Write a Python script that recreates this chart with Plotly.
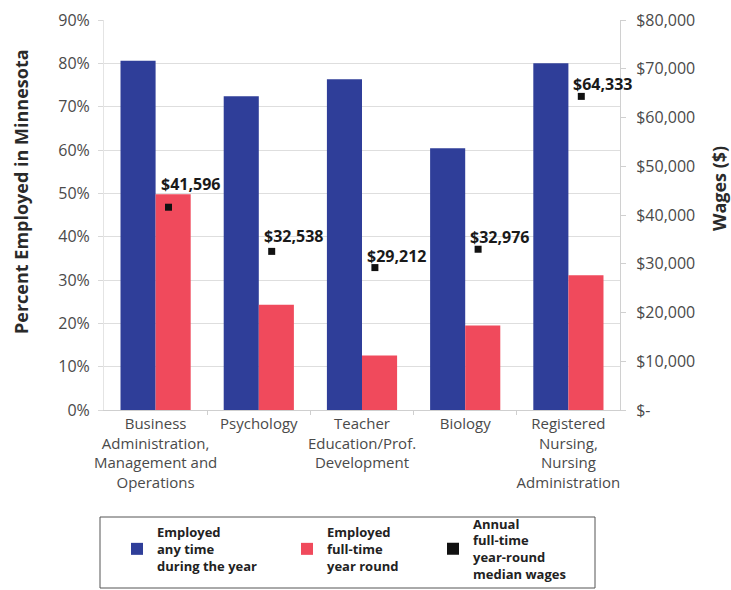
import plotly.graph_objects as go

# ---- data ----
categories = [
    "Business<br>Administration,<br>Management and<br>Operations",
    "Psychology",
    "Teacher<br>Education/Prof.<br>Development",
    "Biology",
    "Registered<br>Nursing,<br>Nursing<br>Administration",
]
employed_any = [80.6, 72.4, 76.3, 60.4, 80.0]
employed_fulltime = [49.8, 24.3, 12.6, 19.5, 31.1]
median_wages = [41596, 32538, 29212, 32976, 64333]
wage_labels = ["$41,596", "$32,538", "$29,212", "$32,976", "$64,333"]
left_ticks = [0, 10, 20, 30, 40, 50, 60, 70, 80, 90]
left_ticktext = ["0%", "10%", "20%", "30%", "40%", "50%", "60%", "70%", "80%", "90%"]
right_ticks = [0, 10000, 20000, 30000, 40000, 50000, 60000, 70000, 80000]
right_ticktext = ["$-", "$10,000", "$20,000", "$30,000", "$40,000",
                  "$50,000", "$60,000", "$70,000", "$80,000"]
legend_names = [
    "Employed<br>any time<br>during the year",
    "Employed<br>full-time<br>year round",
    "Annual<br>full-time<br>year-round<br>median wages",
]
left_title = "Percent Employed in Minnesota"
right_title = "Wages ($)"

# ---- styles ----
BLUE = "#2f3e99"
RED = "#f04a5c"
FONT = "Open Sans"
TICK_COLOR = "#4a4a4a"
GRID = "#dedede"
W, H = 731, 590
ML, MR, MT, MB = 104, 111, 20, 180
PW, PH = W - ML - MR, H - MT - MB
marker_offset = 0.125
label_yshift = [23, 15, 12, 12, 12]
legend_px_x = [117, 287, 433]     # left edge of each legend entry (pixels)
legend_px_y = 549                 # vertical centre of legend entries (pixels)
box_px = (100, 517, 595, 588)     # legend frame (x0, y0, x1, y1) in pixels
left_title_px = (21, 192)
right_title_px = (719, 189)


def paper_x(px):
    return (px - ML) / PW


def paper_y(py):
    return (H - MB - py) / PH


pos = list(range(len(categories)))
wage_x = [p + marker_offset for p in pos]

fig = go.Figure()
fig.add_trace(go.Bar(x=pos, y=employed_any, name=legend_names[0], legend="legend",
                     marker=dict(color=BLUE, line=dict(width=0))))
fig.add_trace(go.Bar(x=pos, y=employed_fulltime, name=legend_names[1], legend="legend2",
                     marker=dict(color=RED, line=dict(width=0))))
fig.add_trace(go.Scatter(x=wage_x, y=median_wages, name=legend_names[2], legend="legend3",
                         mode="markers", yaxis="y2",
                         marker=dict(symbol="square", size=7, color="#111111")))

for xv, yv, txt, ys in zip(wage_x, median_wages, wage_labels, label_yshift):
    fig.add_annotation(x=xv, y=yv, xref="x", yref="y2", text=txt,
                       showarrow=False, xanchor="left", yanchor="middle",
                       xshift=-10, yshift=ys,
                       font=dict(family=FONT, size=16, color="#1a1a1a", weight="bold"))

title_font = dict(family=FONT, size=18, color="#2a2a2a", weight="bold")
fig.add_annotation(x=paper_x(left_title_px[0]), y=paper_y(left_title_px[1]),
                   xref="paper", yref="paper", text=left_title, textangle=-90,
                   showarrow=False, xanchor="center", yanchor="middle", font=title_font)
fig.add_annotation(x=paper_x(right_title_px[0]), y=paper_y(right_title_px[1]),
                   xref="paper", yref="paper", text=right_title, textangle=-90,
                   showarrow=False, xanchor="center", yanchor="middle", font=title_font)

fig.add_shape(type="rect", xref="paper", yref="paper",
              x0=paper_x(box_px[0]), x1=paper_x(box_px[2]),
              y0=paper_y(box_px[3]), y1=paper_y(box_px[1]),
              line=dict(color="#555555", width=1), fillcolor="rgba(0,0,0,0)")

legend_style = dict(
    orientation="v", xref="paper", yref="paper",
    xanchor="left", yanchor="middle", y=paper_y(legend_px_y),
    borderwidth=0, bgcolor="rgba(0,0,0,0)",
    font=dict(family=FONT, size=13, color="#222222", weight="bold"),
    valign="middle", itemsizing="constant",
)

fig.update_layout(
    width=W, height=H,
    margin=dict(l=ML, r=MR, t=MT, b=MB, autoexpand=False),
    paper_bgcolor="white", plot_bgcolor="white",
    barmode="group", bargap=0.32, bargroupgap=0,
    font=dict(family=FONT, color=TICK_COLOR),
    xaxis=dict(
        range=[-0.5, 4.5], tickvals=pos, ticktext=categories,
        tickfont=dict(size=15, color=TICK_COLOR), ticks="",
        showgrid=False, zeroline=False,
        showline=True, linecolor="#cfcfcf", linewidth=1,
        minor=dict(tickvals=[0.5, 1.5, 2.5, 3.5], ticks="outside",
                   ticklen=4, tickcolor="#cfcfcf", showgrid=False),
    ),
    yaxis=dict(
        range=[0, 90], tickvals=left_ticks, ticktext=left_ticktext,
        tickfont=dict(size=16, color=TICK_COLOR),
        showgrid=True, gridcolor=GRID, gridwidth=1, zeroline=False,
        ticks="outside", ticklen=5, tickcolor="#d8d8d8", ticklabelstandoff=5,
        showline=True, linecolor="#e4e4e4",
    ),
    yaxis2=dict(
        range=[0, 80000], tickvals=right_ticks, ticktext=right_ticktext,
        overlaying="y", side="right",
        tickfont=dict(size=16, color=TICK_COLOR),
        showgrid=False, zeroline=False,
        ticks="outside", ticklen=5, tickcolor="#d0d0d0", ticklabelstandoff=7,
        showline=True, linecolor="#d0d0d0",
    ),
    legend=dict(legend_style, x=paper_x(legend_px_x[0])),
    legend2=dict(legend_style, x=paper_x(legend_px_x[1])),
    legend3=dict(legend_style, x=paper_x(legend_px_x[2])),
    showlegend=True,
)

fig.write_html("out.html")
